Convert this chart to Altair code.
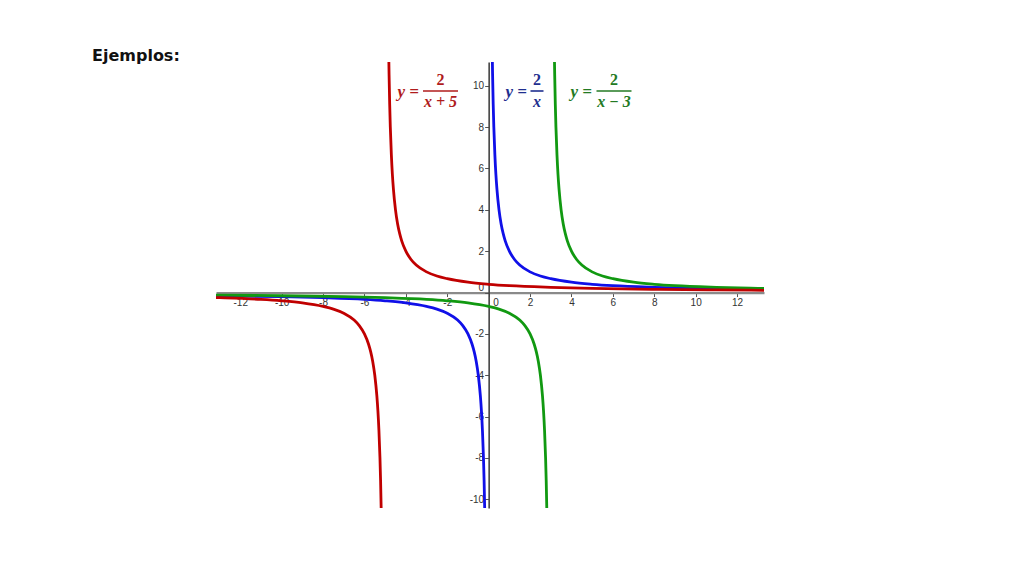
import altair as alt
import pandas as pd

# ---------------- data ----------------
fn_names = ["y = 2/x", "y = 2/(x - 3)", "y = 2/(x + 5)"]
asymptotes = [0.0, 3.0, -5.0]
curve_colors = ["#1010e8", "#119911", "#c00000"]
label_colors = ["#1f2f8f", "#237a23", "#b01c1c"]
numerators = ["2", "2", "2"]
denominators = ["x", "x \u2212 3", "x + 5"]

# distance from the vertical asymptote and the curve height
dist = [0.17, 0.19, 0.22, 0.25, 0.3, 0.35, 0.4, 0.5, 0.6, 0.7, 0.8, 1.0, 1.25,
        1.5, 2.0, 2.5, 3.0, 4.0, 5.0, 6.0, 8.0, 10.0, 13.0, 16.0, 19.0]
height = [11.76, 10.53, 9.09, 8.0, 6.67, 5.71, 5.0, 4.0, 3.33, 2.86, 2.5, 2.0, 1.6,
          1.33, 1.0, 0.8, 0.67, 0.5, 0.4, 0.33, 0.25, 0.2, 0.154, 0.125, 0.105]

x_ticks = [-12, -10, -8, -6, -4, -2, 0, 2, 4, 6, 8, 10, 12]
y_ticks = [-10, -8, -6, -4, -2, 0, 2, 4, 6, 8, 10]

X_MIN, X_MAX = -13.17, 13.3
Y_MIN, Y_MAX = -10.42, 11.15

rows = []
for name, a in zip(fn_names, asymptotes):
    for d, v in zip(dist, height):
        rows.append({"fn": name, "branch": name + " R", "x": a + d, "y": v})
        rows.append({"fn": name, "branch": name + " L", "x": a - d, "y": -v})
df = pd.DataFrame(rows)

# ---------------- layout ----------------
W, H = 548, 446
PAD_L, PAD_T = 208, 54
x_axis_off = H * (0 - Y_MIN) / (Y_MAX - Y_MIN)
y_axis_off = W * (0 - X_MIN) / (X_MAX - X_MIN)

zero_test = "datum.value === 0"

x_enc = alt.X(
    "x:Q",
    scale=alt.Scale(domain=[X_MIN, X_MAX], nice=False, zero=False),
    axis=alt.Axis(
        values=x_ticks, offset=-x_axis_off, title=None, grid=False,
        domainColor="#8a8a8a", domainWidth=2.2, tickColor="#555555", tickSize=4,
        tickWidth=1, labelFont="Liberation Sans", labelFontSize=10,
        labelColor="#333333", labelPadding=1, labelFlush=False, labelOverlap=False,
        labelExpr="toString(datum.value)",
        labelOffset={"condition": {"test": zero_test, "value": 7}, "value": 0},
    ),
)
y_enc = alt.Y(
    "y:Q",
    scale=alt.Scale(domain=[Y_MIN, Y_MAX], nice=False, zero=False),
    axis=alt.Axis(
        values=y_ticks, offset=-y_axis_off, title=None, grid=False,
        domainColor="#444444", domainWidth=1.6, tickColor="#555555", tickSize=4,
        tickWidth=1, labelFont="Liberation Sans", labelFontSize=10,
        labelColor="#333333", labelPadding=1, labelFlush=False, labelOverlap=False,
        labelExpr="toString(datum.value)",
        labelBaseline={"condition": {"test": zero_test, "value": "bottom"}, "value": "middle"},
    ),
)

curves = alt.Chart(df).mark_line(
    clip=True, strokeWidth=2.8, interpolate="monotone"
).encode(
    x=x_enc,
    y=y_enc,
    color=alt.Color("fn:N", scale=alt.Scale(domain=fn_names, range=curve_colors), legend=None),
    detail="branch:N",
    order="x:Q",
)

one = alt.Data(values=[{}])
FONT = "Liberation Serif"

# label placement (pixels relative to plot origin): y= right edge, fraction center, bar half-width
label_pos = [
    {"eq_right": 311, "frac_cx": 321, "bar_half": 6.5},
    {"eq_right": 376, "frac_cx": 398, "bar_half": 17.5},
    {"eq_right": 203, "frac_cx": 224.5, "bar_half": 17.5},
]
NUM_Y, BAR_Y, DEN_Y, EQ_Y = 18, 29, 40, 30

layers = [curves]
for i in range(3):
    p = label_pos[i]
    c = label_colors[i]
    layers.append(alt.Chart(one).mark_text(
        text="y =", font=FONT, fontSize=17, fontWeight="bold", fontStyle="italic",
        align="right", baseline="middle", color=c,
    ).encode(x=alt.value(p["eq_right"]), y=alt.value(EQ_Y)))
    layers.append(alt.Chart(one).mark_text(
        text=numerators[i], font=FONT, fontSize=16, fontWeight="bold",
        align="center", baseline="middle", color=c,
    ).encode(x=alt.value(p["frac_cx"]), y=alt.value(NUM_Y)))
    layers.append(alt.Chart(one).mark_rule(color=c, strokeWidth=1.6).encode(
        x=alt.value(p["frac_cx"] - p["bar_half"]),
        x2=alt.value(p["frac_cx"] + p["bar_half"]),
        y=alt.value(BAR_Y),
    ))
    layers.append(alt.Chart(one).mark_text(
        text=denominators[i], font=FONT, fontSize=16, fontWeight="bold", fontStyle="italic",
        align="center", baseline="middle", color=c,
    ).encode(x=alt.value(p["frac_cx"]), y=alt.value(DEN_Y)))

title = alt.Chart(one).mark_text(
    text="Ejemplos:", font="DejaVu Sans", fontSize=16, fontWeight="bold",
    align="left", baseline="middle", color="#111111",
).encode(x=alt.value(-124), y=alt.value(-6))
layers.append(title)

chart = alt.layer(*layers).properties(
    width=W, height=H, autosize="none",
    padding={"left": PAD_L, "top": PAD_T, "right": 10, "bottom": 10},
).configure_view(stroke=None)

chart.save("out.html", embed_options={"renderer": "svg", "actions": False})
